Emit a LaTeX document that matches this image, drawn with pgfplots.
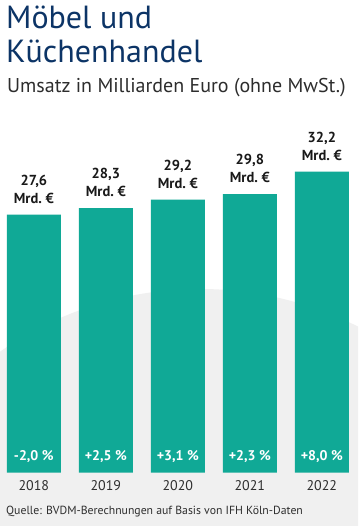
\documentclass[border=0pt]{standalone}
\usepackage{pgfplots}
\pgfplotsset{compat=1.18}
\usepackage{fontspec}
\setmainfont{PT Sans}
\definecolor{barc}{RGB}{16,169,150}
\definecolor{ttl}{RGB}{12,52,102}
\definecolor{sub}{RGB}{45,45,45}
\definecolor{bg}{RGB}{240,240,240}
\tikzset{pct/.style={anchor=base, inner sep=0pt, text=white, font={\fontsize{14bp}{15bp}\selectfont\bfseries}}}
\begin{document}
\begin{tikzpicture}[x=1bp,y=1bp]
\useasboundingbox (0,0) rectangle (358,526);
\fill[white] (0,0) rectangle (358,526);
\begin{scope}
\clip (0,0) rectangle (358,526);
\fill[bg] (200,-113) circle (350);
\end{scope}
\node[anchor=base west, inner sep=0pt, text=ttl, font={\fontsize{32bp}{34bp}\selectfont}] at (6,497) {Möbel und};
\node[anchor=base west, inner sep=0pt, text=ttl, font={\fontsize{32bp}{34bp}\selectfont}] at (6,463) {Küchenhandel};
\node[anchor=base west, inner sep=0pt, text=sub, font={\fontsize{20bp}{22bp}\selectfont}] at (7,433) {Umsatz in Milliarden Euro (ohne MwSt.)};
\begin{axis}[
  at={(-3,57)}, anchor=south west,
  scale only axis, width=360bp, height=327.25bp,
  xmin=-0.5, xmax=4.5, ymin=0, ymax=35,
  axis line style={draw=none},
  major tick length=0pt,
  ytick=\empty,
  xtick={0,1,2,3,4},
  xticklabels={2018,2019,2020,2021,2022},
  xticklabel style={anchor=base, yshift=-18bp, inner sep=0pt, text=sub,
    font={\fontsize{14bp}{16bp}\selectfont}},
  clip=false,
]
\addplot[ybar, bar width=54bp, fill=barc, draw=none,
  point meta=y,
  nodes near coords={\pgfmathprintnumber[use comma, fixed, precision=1, fixed zerofill, assume math mode=true]{\pgfplotspointmeta}\\Mrd.~€},
  every node near coord/.style={anchor=south, inner sep=0pt, yshift=11bp, align=center, text=black!90,
    font={\fontsize{14.5bp}{18bp}\selectfont\bfseries}},
] coordinates {(0,27.6) (1,28.3) (2,29.2) (3,29.8) (4,32.2)};
\node[pct] at (axis cs:0,1.28) {-2,0 \%};
\node[pct] at (axis cs:1,1.28) {+2,5 \%};
\node[pct] at (axis cs:2,1.28) {+3,1 \%};
\node[pct] at (axis cs:3,1.28) {+2,3 \%};
\node[pct] at (axis cs:4,1.28) {+8,0 \%};
\end{axis}
\node[anchor=base west, inner sep=0pt, text=sub, font={\fontsize{11.75bp}{14bp}\selectfont}] at (6,11) {Quelle: BVDM-Berechnungen auf Basis von IFH Köln-Daten};
\end{tikzpicture}
\end{document}
